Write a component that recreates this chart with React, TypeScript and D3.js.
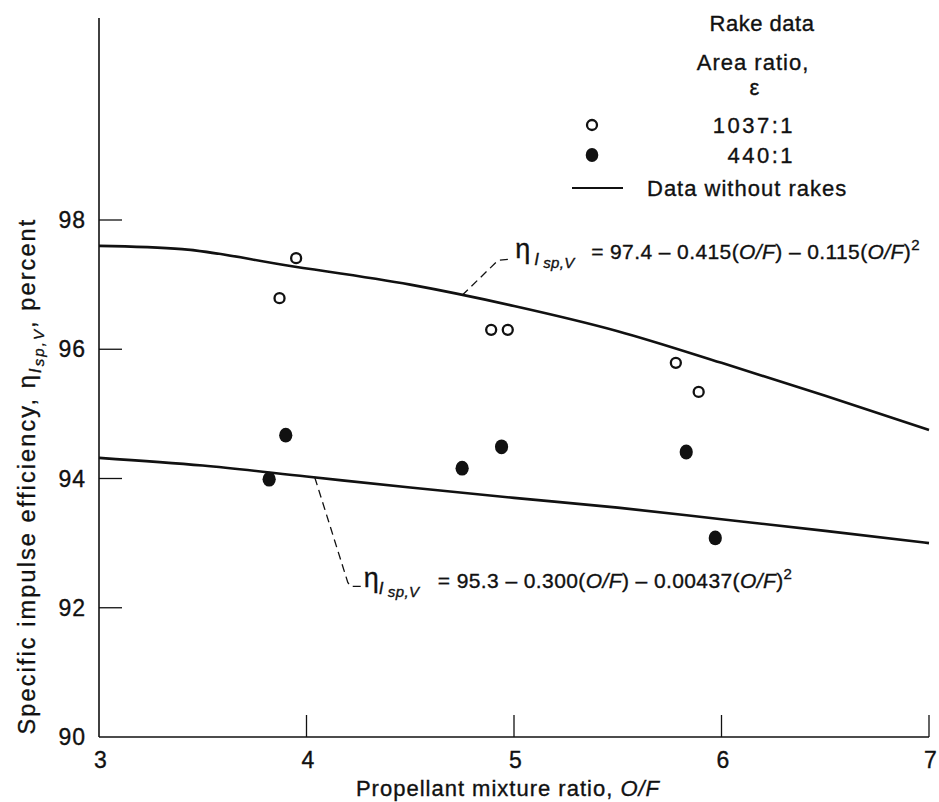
import React from 'react';
import * as d3 from 'd3';

const xTicks = [3, 4, 5, 6, 7];
const yTicks = [90, 92, 94, 96, 98];

const upperCurveX = [3.0, 3.4, 3.9, 4.5, 5.0, 5.5, 6.0, 6.5, 7.0];
const upperCurveY = [97.6, 97.55, 97.3, 97.0, 96.67, 96.28, 95.79, 95.28, 94.75];
const lowerCurveX = [3.0, 3.5, 4.0, 4.5, 5.0, 5.5, 6.0, 6.5, 7.0];
const lowerCurveY = [94.32, 94.2, 94.03, 93.86, 93.7, 93.55, 93.37, 93.19, 93.0];

const openX = [3.95, 3.87, 4.89, 4.97, 5.78, 5.89];
const openY = [97.41, 96.79, 96.3, 96.3, 95.79, 95.34];
const filledX = [3.82, 3.9, 4.75, 4.94, 5.83, 5.97];
const filledY = [93.99, 94.67, 94.16, 94.49, 94.41, 93.08];

const legendTitle = 'Rake data';
const legendSub = 'Area ratio,';
const legendSymbol = 'ε';
const seriesNames = ['1037:1', '440:1'];
const lineName = 'Data without rakes';
const upperEq = { coef: ['97.4', '0.415', '0.115'], at: 4.75 };
const lowerEq = { coef: ['95.3', '0.300', '0.00437'], at: 4.04 };

const FONT = '"Liberation Sans", Arial, Helvetica, sans-serif';
const INK = '#111';

export default function App() {
  const x = d3.scaleLinear().domain([3, 7]).range([99, 929]);
  const y = d3.scaleLinear().domain([90, 98]).range([737, 220]);

  const line = d3
    .line<[number, number]>()
    .x((d) => x(d[0]))
    .y((d) => y(d[1]))
    .curve(d3.curveMonotoneX);

  const upper: [number, number][] = upperCurveX.map((v, i) => [v, upperCurveY[i]]);
  const lower: [number, number][] = lowerCurveX.map((v, i) => [v, lowerCurveY[i]]);

  const interp = (xs: number[], ys: number[], v: number) => {
    const s = d3.scaleLinear().domain(xs).range(ys);
    return s(v);
  };

  const uX = x(upperEq.at);
  const uY = y(interp(upperCurveX, upperCurveY, upperEq.at));
  const lX = x(lowerEq.at);
  const lY = y(interp(lowerCurveX, lowerCurveY, lowerEq.at));

  const textProps = {
    fontFamily: FONT,
    fill: INK,
    fontSize: 22,
    letterSpacing: 1,
    stroke: INK,
    strokeWidth: 0.35,
  };

  const eqFont = { ...textProps, fontSize: 21, letterSpacing: 0.4 };

  return (
    <svg
      width={939}
      height={802}
      style={{ position: 'absolute', left: 0, top: 0, background: '#fff' }}
    >
      <rect width={939} height={802} fill="#fff" />
      {/* axes */}
      <line x1={x(3)} x2={x(3)} y1={18} y2={y(90)} stroke={INK} strokeWidth={1.6} />
      <line x1={x(3)} x2={x(7)} y1={y(90)} y2={y(90)} stroke={INK} strokeWidth={1.6} />
      {yTicks.filter((t) => t > 90).map((t) => (
        <line key={'yt' + t} x1={x(3)} x2={x(3) + 23} y1={y(t)} y2={y(t)} stroke={INK} strokeWidth={1.3} />
      ))}
      {xTicks.filter((t) => t > 3).map((t) => (
        <line key={'xt' + t} x1={x(t)} x2={x(t)} y1={y(90)} y2={y(90) - 22} stroke={INK} strokeWidth={1.3} />
      ))}
      {yTicks.map((t) => (
        <text key={'yl' + t} {...textProps} fontSize={23} x={86} y={y(t) + 8} textAnchor="end">
          {t}
        </text>
      ))}
      {xTicks.map((t) => (
        <text key={'xl' + t} {...textProps} fontSize={23} x={x(t) + 2} y={768} textAnchor="middle">
          {t}
        </text>
      ))}
      <text {...textProps} x={508} y={796} textAnchor="middle">
        Propellant mixture ratio, <tspan fontStyle="italic">O/F</tspan>
      </text>
      <text
        {...textProps}
        fontSize={23.5}
        letterSpacing={2.1}
        transform="translate(35,476) rotate(-90)"
        textAnchor="middle"
      >
        Specific impulse efficiency, η
        <tspan fontStyle="italic" fontSize={17} dy={6}>I</tspan>
        <tspan fontStyle="italic" fontSize={15} dy={3}>sp,V</tspan>
        <tspan dy={-9}>, percent</tspan>
      </text>

      {/* curves */}
      <path d={line(upper) || ''} fill="none" stroke={INK} strokeWidth={2.6} />
      <path d={line(lower) || ''} fill="none" stroke={INK} strokeWidth={2.6} />

      {/* points */}
      {openX.map((v, i) => (
        <circle key={'o' + i} cx={x(v)} cy={y(openY[i])} r={5} fill="#fff" stroke={INK} strokeWidth={2.3} />
      ))}
      {filledX.map((v, i) => (
        <ellipse key={'f' + i} cx={x(v)} cy={y(filledY[i])} rx={6.6} ry={7.4} fill={INK} />
      ))}

      {/* annotation leaders */}
      <path
        d={`M${uX},${uY} L${uX + 36},${uY - 35} L${uX + 47},${uY - 36}`}
        fill="none"
        stroke={INK}
        strokeWidth={1.3}
        strokeDasharray="8,5"
      />
      <path
        d={`M${lX},${lY} L${lX + 33},${lY + 105} L${lX + 36},${lY + 109} L${lX + 46},${lY + 109}`}
        fill="none"
        stroke={INK}
        strokeWidth={1.3}
        strokeDasharray="8,5"
      />

      {/* upper equation */}
      <text {...eqFont} x={uX + 53} y={uY - 37} fontSize={27}>η</text>
      <text {...eqFont} x={uX + 72} y={uY - 30} fontSize={17} fontStyle="italic">I</text>
      <text {...eqFont} x={uX + 81} y={uY - 27} fontSize={15} fontStyle="italic">sp,V</text>
      <text {...eqFont} x={uX + 129} y={uY - 36}>
        = {upperEq.coef[0]} – {upperEq.coef[1]}(<tspan fontStyle="italic">O/F</tspan>) – {upperEq.coef[2]}(
        <tspan fontStyle="italic">O/F</tspan>)<tspan fontSize={15} dy={-9}>2</tspan>
      </text>

      {/* lower equation */}
      <text {...eqFont} x={lX + 49} y={lY + 110} fontSize={27}>η</text>
      <text {...eqFont} x={lX + 64} y={lY + 117} fontSize={17} fontStyle="italic">I</text>
      <text {...eqFont} x={lX + 73} y={lY + 120} fontSize={15} fontStyle="italic">sp,V</text>
      <text {...eqFont} x={lX + 123} y={lY + 111}>
        = {lowerEq.coef[0]} – {lowerEq.coef[1]}(<tspan fontStyle="italic">O/F</tspan>) – {lowerEq.coef[2]}(
        <tspan fontStyle="italic">O/F</tspan>)<tspan fontSize={15} dy={-9}>2</tspan>
      </text>

      {/* legend */}
      <text {...textProps} letterSpacing={0.5} x={762} y={31} textAnchor="middle">{legendTitle}</text>
      <text {...textProps} x={753} y={70} textAnchor="middle">{legendSub}</text>
      <text {...textProps} x={755} y={95} textAnchor="middle">{legendSymbol}</text>
      <circle cx={592} cy={125} r={5} fill="#fff" stroke={INK} strokeWidth={2.3} />
      <text {...textProps} letterSpacing={2.5} x={795} y={133} textAnchor="end">{seriesNames[0]}</text>
      <ellipse cx={592} cy={155} rx={6.3} ry={7} fill={INK} />
      <text {...textProps} letterSpacing={2.5} x={795} y={163} textAnchor="end">{seriesNames[1]}</text>
      <line x1={572} x2={623} y1={188} y2={188} stroke={INK} strokeWidth={2} />
      <text {...textProps} x={647} y={196}>{lineName}</text>
    </svg>
  );
}
